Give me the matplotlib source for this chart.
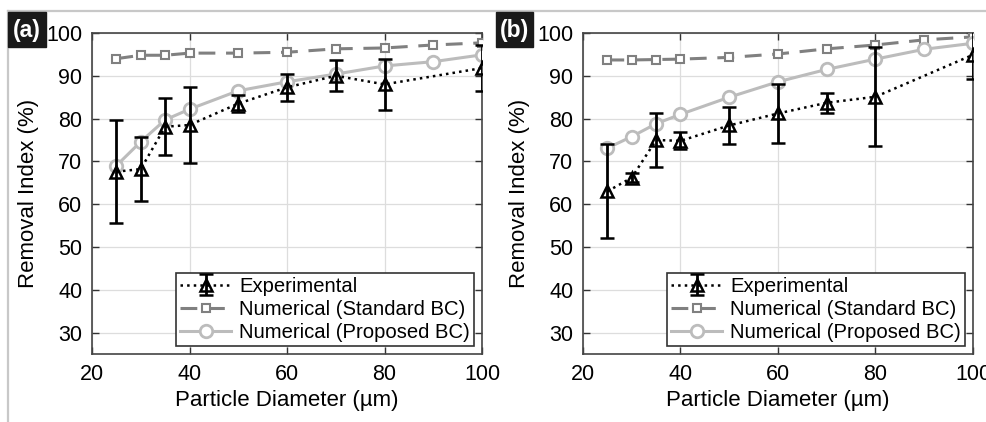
import matplotlib
matplotlib.use('Agg')
import matplotlib.pyplot as plt
from matplotlib.lines import Line2D
import numpy as np

plt.rcParams['font.family'] = ['Liberation Sans', 'DejaVu Sans']

# particle diameters (um)
d_num = [25, 30, 35, 40, 50, 60, 70, 80, 90, 100]
d_exp = [25, 30, 35, 40, 50, 60, 70, 80, 100]

# panel (a)
a_std = [94.0, 94.8, 94.8, 95.3, 95.3, 95.5, 96.3, 96.5, 97.2, 97.7]
a_prop = [69.0, 74.6, 79.7, 82.2, 86.5, 88.6, 90.4, 92.3, 93.3, 94.9]
a_exp = [67.6, 68.2, 78.1, 78.5, 83.5, 87.3, 90.0, 88.0, 91.8]
a_err = [12.0, 7.5, 6.7, 8.8, 2.0, 3.2, 3.6, 6.0, 5.3]

# panel (b)
b_std = [93.7, 93.7, 93.8, 93.9, 94.3, 95.1, 96.3, 97.2, 98.4, 99.1]
b_prop = [73.1, 75.8, 78.8, 81.0, 85.0, 88.6, 91.5, 93.9, 96.2, 97.6]
b_exp = [63.0, 66.2, 75.0, 74.8, 78.4, 81.2, 83.7, 85.1, 94.9]
b_err = [11.0, 1.0, 6.2, 2.0, 4.4, 7.0, 2.3, 11.6, 5.6]

panels = [('(a)', a_std, a_prop, a_exp, a_err),
          ('(b)', b_std, b_prop, b_exp, b_err)]

W, H = 987, 422
fig = plt.figure(figsize=(W / 100, H / 100), dpi=100)

c_std = '#808080'
c_prop = '#bcbcbc'

# frame lines of the figure
fig.add_artist(Line2D([8 / W, 1], [1 - 11 / H, 1 - 11 / H], color='#c8c8c8', lw=1.6))
fig.add_artist(Line2D([8 / W, 8 / W], [0, 1 - 11 / H], color='#c8c8c8', lw=1.6))

lefts = [92, 583]
boxes = [(8, 46), (496, 533)]
for i, (tag, std, prop, exp, err) in enumerate(panels):
    ax = fig.add_axes([lefts[i] / W, (H - 354) / H, 390 / W, 321 / H])
    ax.grid(True, color='#dddddd', lw=0.9)
    ax.set_axisbelow(True)
    ax.plot(d_num, std, color=c_std, ls=(0, (5.5, 3.5)), lw=2.2, marker='s', ms=6,
            mfc='white', mec=c_std, mew=1.5, label='Numerical (Standard BC)', zorder=3)
    ax.plot(d_num, prop, color=c_prop, ls='-', lw=2.2, marker='o', ms=9,
            mfc='white', mec=c_prop, mew=2, label='Numerical (Proposed BC)', zorder=3)
    ax.errorbar(d_exp, exp, yerr=err, color='black', ls=':', lw=1.8, marker='^', ms=9,
                mfc='none', mec='black', mew=1.8, elinewidth=2, capsize=5, capthick=2,
                label='Experimental', zorder=4)
    ax.set_xlim(20, 100)
    ax.set_ylim(25, 100)
    ax.set_xticks([20, 40, 60, 80, 100])
    ax.set_yticks(np.arange(30, 101, 10))
    ax.tick_params(direction='in', top=True, right=True, labelsize=15.5, length=5,
                   width=1, color='#333333', pad=7)
    for s in ax.spines.values():
        s.set_color('#444444')
        s.set_linewidth(1.2)
    ax.set_xlabel('Particle Diameter (µm)', fontsize=16, labelpad=4)
    ax.set_ylabel('Removal Index (%)', fontsize=16, labelpad=5)
    h, l = ax.get_legend_handles_labels()
    order = [2, 0, 1]
    leg = ax.legend([h[k] for k in order], [l[k] for k in order], loc='lower right',
                    fontsize=14.6, frameon=True, fancybox=False, edgecolor='#333333',
                    framealpha=1, borderpad=0.2, handlelength=2.5, handletextpad=0.4,
                    labelspacing=0.2, borderaxespad=0.4)
    leg.get_frame().set_linewidth(1.2)

    x0, x1 = boxes[i]
    fig.patches.append(plt.Rectangle((x0 / W, 1 - 47 / H), (x1 - x0) / W, 35 / H,
                                     transform=fig.transFigure, color='#1a1a1a', zorder=5))
    fig.text((x0 + x1) / 2 / W, 1 - 30 / H, tag, color='white', fontsize=16.5,
             fontweight='bold', ha='center', va='center', zorder=6)

fig.savefig('out.png', dpi=100)
